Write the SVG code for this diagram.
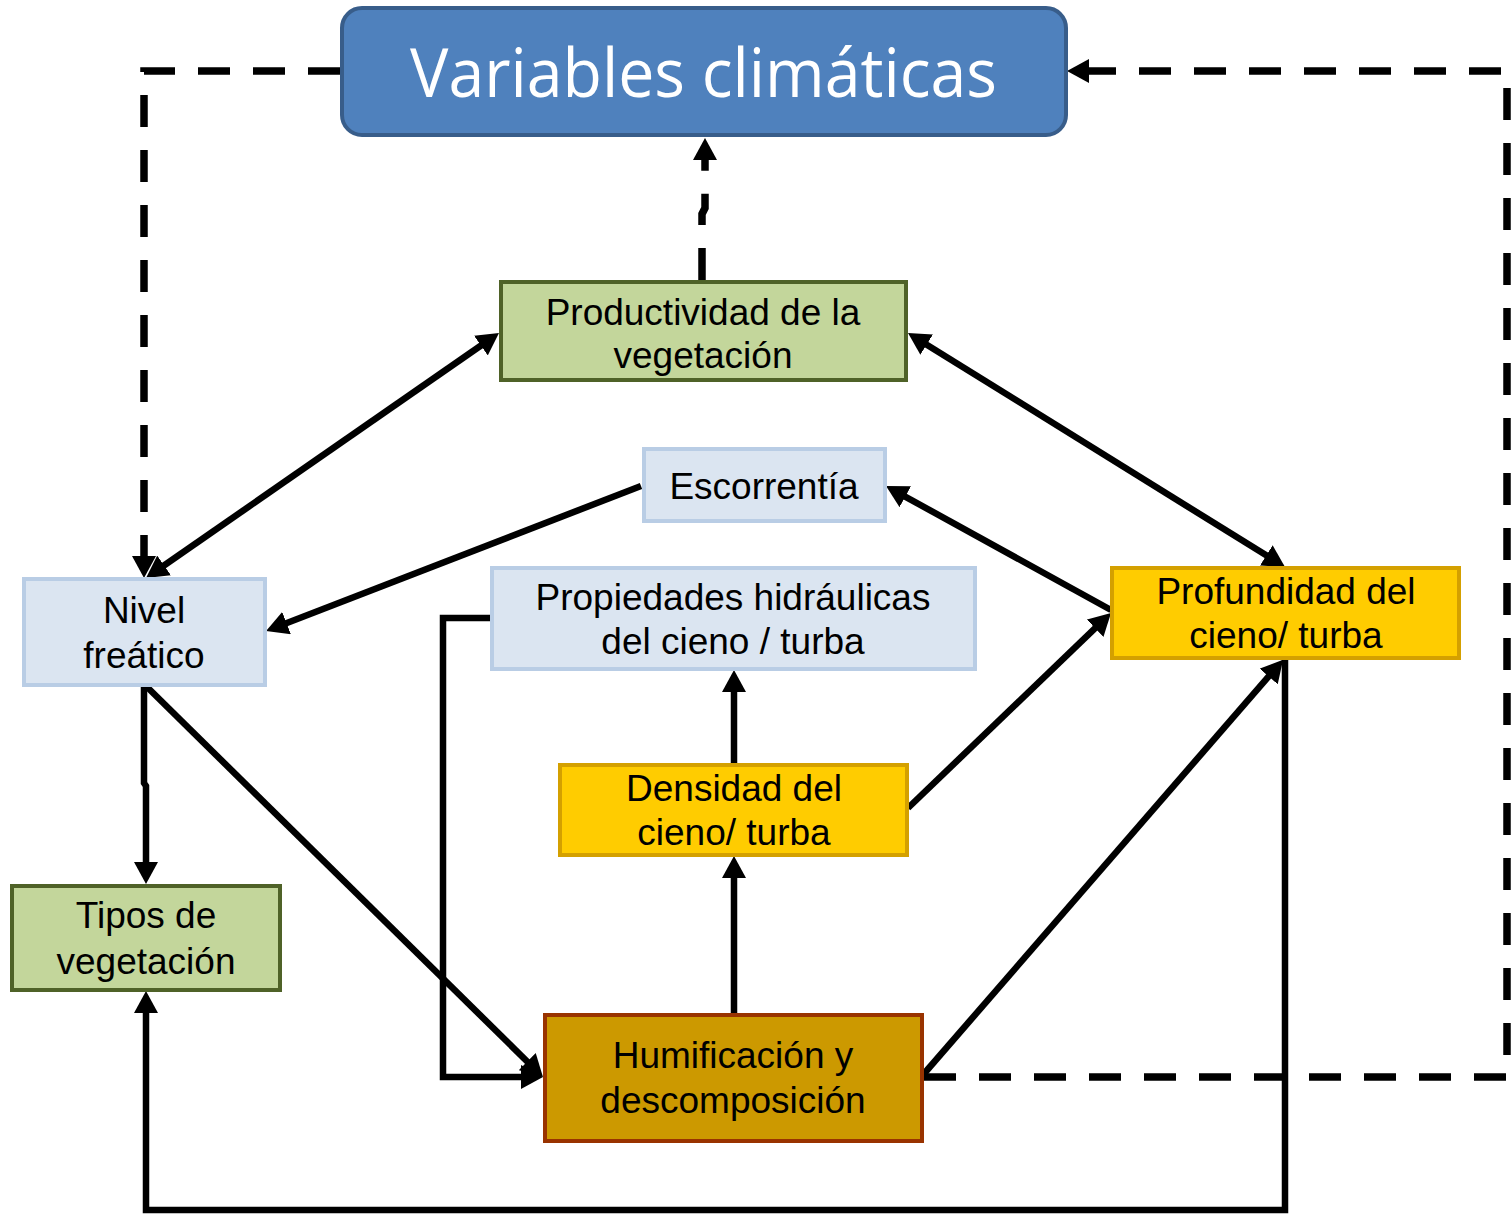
<svg xmlns="http://www.w3.org/2000/svg" width="1511" height="1214" viewBox="0 0 1511 1214">
<style>
.t{font-family:"Liberation Sans",Arial,sans-serif;font-size:37px;fill:#000;text-anchor:middle}
.c{fill:none;stroke:#000;stroke-width:6.5;stroke-linejoin:miter}
.d{fill:none;stroke:#000;stroke-width:7.5;stroke-dasharray:32 23}
.blue{fill:#dbe5f1;stroke:#b9cde5;stroke-width:4}
.green{fill:#c3d69b;stroke:#4f6228;stroke-width:4}
.yellow{fill:#ffcc00;stroke:#d4a000;stroke-width:4}
</style>
<defs>
<marker id="ah" markerUnits="userSpaceOnUse" markerWidth="22" markerHeight="24" viewBox="0 0 22 24" refX="8" refY="12" orient="auto-start-reverse"><path d="M0,0L22,12L0,24z" fill="#000"/></marker>
</defs>
<rect width="1511" height="1214" fill="#fff"/>
<g id="connectors">
<path class="d" d="M340,71 H144 V564" marker-end="url(#ah)"/>
<path class="d" d="M924,1077 H1507 V71 H1081" marker-end="url(#ah)"/>
<path class="d" d="M702,280 V214 L705,208 V152" marker-end="url(#ah)"/>
<path class="c" d="M157.5,570 L487.5,341" marker-start="url(#ah)" marker-end="url(#ah)"/>
<path class="c" d="M919.9,340.4 L1273.1,559.6" marker-start="url(#ah)" marker-end="url(#ah)"/>
<path class="c" d="M641,486 L279.1,626" marker-end="url(#ah)"/>
<path class="c" d="M1111,610 L898.3,492.8" marker-end="url(#ah)"/>
<path class="c" d="M908,808 L1100.9,622.7" marker-end="url(#ah)"/>
<path class="c" d="M734,763 V684" marker-end="url(#ah)"/>
<path class="c" d="M734,1013 V870" marker-end="url(#ah)"/>
<path class="c" d="M922,1076 L1273.9,670.4" marker-end="url(#ah)"/>
<path class="c" d="M145,685 L533,1067.2" marker-end="url(#ah)"/>
<path class="c" d="M144,686 V783 L146,786 V870" marker-end="url(#ah)"/>
<path class="c" d="M490,618 H443 V1077 H529" marker-end="url(#ah)"/>
<path class="c" d="M1285,659 V1210 H146 V1005" marker-end="url(#ah)"/>
</g>
<g id="variables">
<rect x="342" y="8" width="724" height="127" rx="20" fill="#4f81bd" stroke="#385d8a" stroke-width="4"/>
<text x="703.5" y="97" font-family="'Open Sans',sans-serif" font-size="68" fill="#fff" text-anchor="middle" textLength="587" lengthAdjust="spacingAndGlyphs">Variables climáticas</text>
</g>
<g id="productividad">
<rect class="green" x="501" y="282" width="405" height="98"/>
<text class="t" x="703" y="325">Productividad de la</text>
<text class="t" x="703" y="368">vegetación</text>
</g>
<g id="escorrentia">
<rect class="blue" x="644" y="449" width="241" height="72"/>
<text class="t" x="764" y="499">Escorrentía</text>
</g>
<g id="nivel">
<rect class="blue" x="24" y="579" width="241" height="106"/>
<text class="t" x="144" y="623">Nivel</text>
<text class="t" x="144" y="668">freático</text>
</g>
<g id="propiedades">
<rect class="blue" x="492" y="568" width="483" height="101"/>
<text class="t" x="733" y="610">Propiedades hidráulicas</text>
<text class="t" x="733" y="654">del cieno / turba</text>
</g>
<g id="profundidad">
<rect class="yellow" x="1112" y="568" width="347" height="90"/>
<text class="t" x="1286" y="604">Profundidad del</text>
<text class="t" x="1286" y="648">cieno/ turba</text>
</g>
<g id="densidad">
<rect class="yellow" x="560" y="765" width="347" height="90"/>
<text class="t" x="734" y="801">Densidad del</text>
<text class="t" x="734" y="845">cieno/ turba</text>
</g>
<g id="tipos">
<rect class="green" x="12" y="886" width="268" height="104"/>
<text class="t" x="146" y="928">Tipos de</text>
<text class="t" x="146" y="974">vegetación</text>
</g>
<g id="humificacion">
<rect x="545" y="1015" width="377" height="126" fill="#cc9900" stroke="#993300" stroke-width="4"/>
<text class="t" x="733" y="1068">Humificación y</text>
<text class="t" x="733" y="1113">descomposición</text>
</g>
</svg>
